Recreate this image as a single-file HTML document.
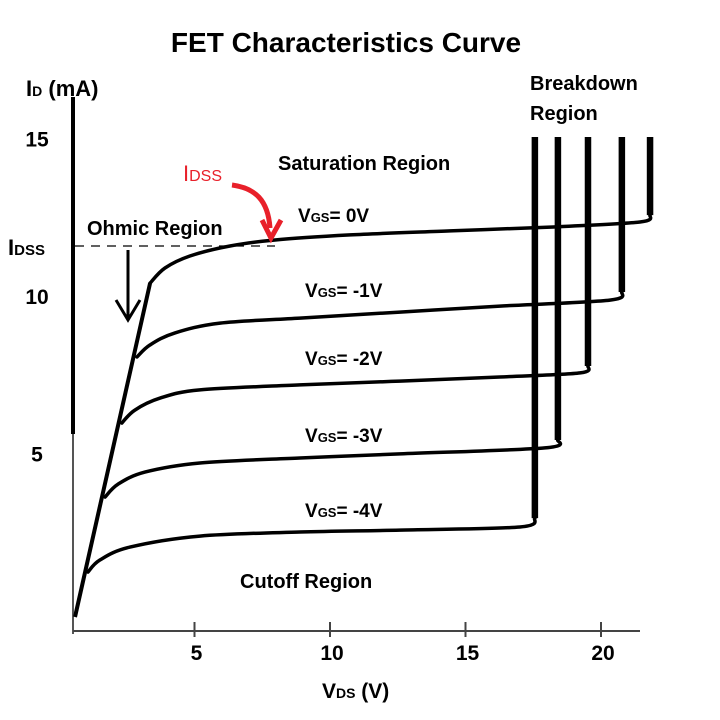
<!DOCTYPE html>
<html><head><meta charset="utf-8"><style>
html,body{margin:0;padding:0;background:#fff}
svg{display:block;font-family:"Liberation Sans",Arial,sans-serif;font-weight:bold}
</style></head><body>
<svg id="chart" width="720" height="720" viewBox="0 0 720 720">
<text x="346" y="52" text-anchor="middle" font-size="28" fill="#000">FET Characteristics Curve</text>
<text x="26" y="96" font-size="22" fill="#000">I<tspan font-size="14">D</tspan> (mA)</text>
<text x="322" y="698" font-size="21" fill="#000">V<tspan font-size="14">DS</tspan> (V)</text>
<g id="axes"></g>
<g id="curves"></g>
<g id="notes">
<text x="278" y="170" font-size="20">Saturation Region</text>
<text x="87" y="235" font-size="20">Ohmic Region</text>
<text x="240" y="588" font-size="20">Cutoff Region</text>
<text x="530" y="90" font-size="20"><tspan x="530">Breakdown</tspan><tspan x="530" dy="30">Region</tspan></text>
<text x="8" y="255" font-size="22">I<tspan font-size="15">DSS</tspan></text>
<text x="183" y="181" font-size="22" fill="#e8202a" font-weight="normal">I<tspan font-size="16">DSS</tspan></text>
<path d="M232,185 C255,188 268,200 270,228" stroke="#e8202a" stroke-width="5" fill="none"/>
<path d="M262,220 L271,238 L281,220" stroke="#e8202a" stroke-width="5" fill="none"/>
<text x="298" y="222" font-size="19">V<tspan font-size="13">GS</tspan>= 0V</text>
<text x="305" y="297" font-size="19">V<tspan font-size="13">GS</tspan>= -1V</text>
<text x="305" y="365" font-size="19">V<tspan font-size="13">GS</tspan>= -2V</text>
<text x="305" y="442" font-size="19">V<tspan font-size="13">GS</tspan>= -3V</text>
<text x="305" y="517" font-size="19">V<tspan font-size="13">GS</tspan>= -4V</text>
<path d="M128,250 L128,320 M116,300 L128,320 L140,300" stroke="#000" stroke-width="3" fill="none"/>
</g>
</svg>
<script>
const xTicks = [5, 10, 15, 20];
const yTicks = [5, 10, 15];
const idss = 11.62;
const ohmicV = [0.59, 3.36];
const ohmicI = [-0.16, 10.44];
const v0 = [3.36, 3.91, 4.83, 6.31, 7.97, 10.74, 14.43, 18.12, 21.44, 21.81, 21.81];
const i0 = [10.44, 10.92, 11.30, 11.62, 11.81, 11.97, 12.10, 12.22, 12.38, 12.60, 15.08];
const v1 = [2.88, 3.36, 4.28, 5.94, 8.89, 12.58, 16.27, 20.33, 20.77, 20.77];
const i1 = [8.10, 8.48, 8.86, 9.17, 9.33, 9.52, 9.71, 9.90, 10.16, 15.08];
const v2 = [2.32, 2.80, 3.73, 5.20, 8.89, 12.58, 16.27, 19.23, 19.52, 19.52];
const i2 = [6.00, 6.41, 6.79, 7.05, 7.21, 7.33, 7.46, 7.59, 7.81, 15.08];
const v3 = [1.70, 2.18, 3.17, 5.20, 8.89, 12.58, 17.93, 18.41, 18.41];
const i3 = [3.65, 4.06, 4.44, 4.73, 4.89, 5.02, 5.21, 5.46, 15.08];
const v4 = [1.07, 1.51, 2.62, 5.20, 8.89, 12.58, 17.01, 17.56, 17.56];
const i4 = [1.27, 1.65, 2.06, 2.41, 2.54, 2.60, 2.70, 2.98, 15.08];

const X = v => 59 + 27.1 * v;
const Y = i => 612 - 31.5 * i;
const NS = 'http://www.w3.org/2000/svg';
function mk(tag, attrs, parent) {
  const e = document.createElementNS(NS, tag);
  for (const k in attrs) e.setAttribute(k, attrs[k]);
  parent.appendChild(e);
  return e;
}
const axes = document.getElementById('axes');
const curves = document.getElementById('curves');

let e = mk('line', {x1: 73, y1: 97, x2: 73, y2: 434, stroke: '#000', 'stroke-width': 4}, axes);


e = mk('line', {x1: 73, y1: 434, x2: 73, y2: 634, stroke: '#555', 'stroke-width': 2}, axes);


e = mk('line', {x1: 73, y1: 631, x2: 640, y2: 631, stroke: '#444', 'stroke-width': 2}, axes);



xTicks.forEach(t => {
  const tk = mk('line', {x1: X(t), y1: 622, x2: X(t), y2: 637, stroke: '#444', 'stroke-width': 2}, axes);
  
  
  const lb = mk('text', {x: X(t) + 2, y: 660, 'text-anchor': 'middle', 'font-size': 21}, axes);
  lb.textContent = t;
  
  
});
yTicks.forEach(t => {
  const lb = mk('text', {x: 37, y: Y(t) + 7, 'text-anchor': 'middle', 'font-size': 21}, axes);
  lb.textContent = t;
  
  
});

e = mk('line', {x1: 75, y1: Y(idss), x2: 275, y2: Y(idss), stroke: '#000', 'stroke-width': 1.3, 'stroke-dasharray': '9,7'}, curves);



function pts(vs, is) { return vs.map((v, k) => X(v).toFixed(1) + ',' + Y(is[k]).toFixed(1)).join(' '); }
function smooth(vs, is) {
  const p = vs.map((v, k) => [X(v), Y(is[k])]);
  let d = 'M' + p[0][0].toFixed(1) + ',' + p[0][1].toFixed(1);
  for (let k = 0; k < p.length - 1; k++) {
    const a = p[k - 1] || p[k], b = p[k], c = p[k + 1], q = p[k + 2] || c;
    const c1x = b[0] + (c[0] - a[0]) / 6, c1y = b[1] + (c[1] - a[1]) / 6;
    const c2x = c[0] - (q[0] - b[0]) / 6, c2y = c[1] - (q[1] - b[1]) / 6;
    d += ' C' + c1x.toFixed(1) + ',' + c1y.toFixed(1) + ' ' + c2x.toFixed(1) + ',' + c2y.toFixed(1) + ' ' + c[0].toFixed(1) + ',' + c[1].toFixed(1);
  }
  return d;
}
e = mk('polyline', {points: pts(ohmicV, ohmicI), fill: 'none', stroke: '#000', 'stroke-width': 4, 'stroke-linejoin': 'round'}, curves);



const series = [[v0, i0, 'vgs-0v'], [v1, i1, 'vgs-minus-1v'], [v2, i2, 'vgs-minus-2v'], [v3, i3, 'vgs-minus-3v'], [v4, i4, 'vgs-minus-4v']];
series.forEach(s => {
  const vs = s[0], is = s[1], n = vs.length;
  const c = mk('path', {d: smooth(vs.slice(0, n - 1), is.slice(0, n - 1)), fill: 'none', stroke: '#000', 'stroke-width': 3.5, 'stroke-linejoin': 'round', 'stroke-linecap': 'round'}, curves);
  
  
  const b = mk('line', {x1: X(vs[n - 2]), y1: Y(is[n - 2]), x2: X(vs[n - 1]), y2: Y(is[n - 1]), stroke: '#000', 'stroke-width': 6.5}, curves);
  
  
});
</script>
</body></html>
